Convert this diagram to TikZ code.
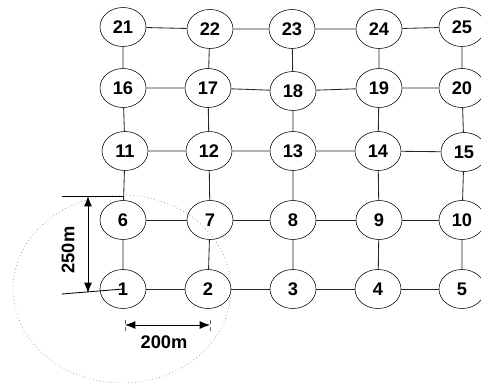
\documentclass[tikz,border=0pt]{standalone}
\usepackage{fontspec}
\setmainfont{Liberation Sans}
\usepackage{tikz}
\usetikzlibrary{shapes.geometric,arrows.meta}

\begin{document}
\begin{tikzpicture}[scale=0.25]
				\tikzstyle{every node}+=[inner sep=0pt]
				\tikzstyle{site}=[draw=black, ellipse, minimum width=1.15cm, minimum height=0.975cm, font=\fontsize{13}{15}\selectfont\bfseries]
				\tikzstyle{link}=[draw=black!85, line width=0.6pt]
				\tikzstyle{dimline}=[black, line width=0.6pt, {Latex[length=2.6mm,width=2mm]}-{Latex[length=2.6mm,width=2mm]}]
				\useasboundingbox (0,0) rectangle (48.1,-38.3);
				% coverage range round node 1
				\draw [black!45, dotted, line width=0.5pt] (12.2,-28.9) ellipse (10.9 and 9.4);
				% grid of nodes, row by row from the bottom
				\node [site] (n1) at (12.3,-28.9) {1};
				\node [site] (n2) at (20.8,-28.9) {2};
				\node [site] (n3) at (29.3,-28.9) {3};
				\node [site] (n4) at (37.8,-28.9) {4};
				\node [site] (n5) at (46.2,-28.9) {5};
				\node [site] (n6) at (12.3,-22.0) {6};
				\node [site] (n7) at (21.0,-22.0) {7};
				\node [site] (n8) at (29.3,-22.0) {8};
				\node [site] (n9) at (37.9,-22.0) {9};
				\node [site] (n10) at (46.2,-22.0) {10};
				\node [site] (n11) at (12.5,-15.1) {11};
				\node [site] (n12) at (20.9,-15.1) {12};
				\node [site] (n13) at (29.3,-15.1) {13};
				\node [site] (n14) at (37.8,-15.1) {14};
				\node [site] (n15) at (46.4,-15.2) {15};
				\node [site] (n16) at (12.3,-8.8) {16};
				\node [site] (n17) at (20.8,-8.8) {17};
				\node [site] (n18) at (29.3,-9.1) {18};
				\node [site] (n19) at (37.9,-8.8) {19};
				\node [site] (n20) at (46.2,-8.8) {20};
				\node [site] (n21) at (12.3,-2.7) {21};
				\node [site] (n22) at (21.0,-2.9) {22};
				\node [site] (n23) at (29.2,-2.9) {23};
				\node [site] (n24) at (37.9,-2.9) {24};
				\node [site] (n25) at (46.2,-2.7) {25};
				% horizontal links
				\draw [link] (n1) -- (n2) -- (n3) -- (n4) -- (n5);
				\draw [link] (n6) -- (n7) -- (n8) -- (n9) -- (n10);
				\draw [link] (n11) -- (n12) -- (n13) -- (n14) -- (n15);
				\draw [link] (n16) -- (n17) -- (n18) -- (n19) -- (n20);
				\draw [link] (n21) -- (n22) -- (n23) -- (n24) -- (n25);
				% vertical links
				\draw [link] (n1) -- (n6) -- (n11) -- (n16) -- (n21);
				\draw [link] (n2) -- (n7) -- (n12) -- (n17) -- (n22);
				\draw [link] (n3) -- (n8) -- (n13) -- (n18) -- (n23);
				\draw [link] (n4) -- (n9) -- (n14) -- (n19) -- (n24);
				\draw [link] (n5) -- (n10) -- (n15) -- (n20) -- (n25);
				% 250m spacing between rows
				\coordinate (topext) at (6.2,-19.6);
				\coordinate (topend) at (12.4,-19.6);
				\coordinate (botext) at (6.2,-29.4);
				\coordinate (arrtop) at (8.8,-19.6);
				\coordinate (arrbot) at (8.8,-29.3);
				\draw [black, line width=0.6pt] (topext) -- (topend);
				\draw [black, line width=0.6pt] (botext) -- (n1.center);
				\draw [dimline] (arrtop) -- (arrbot);
				\node [rotate=90, font=\fontsize{13}{15}\selectfont\bfseries] (lbl250) at (6.8,-25.0) {250m};
				% 200m spacing between columns
				\coordinate (tickl) at (12.5,-32.0);
				\coordinate (tickr) at (21.0,-32.0);
				\coordinate (arrl) at (12.5,-32.5);
				\coordinate (arrr) at (21.0,-32.5);
				\draw [black!60, densely dashed, line width=0.5pt] (tickl) -- ++(0,-1.1);
				\draw [black!60, densely dashed, line width=0.5pt] (tickr) -- ++(0,-1.1);
				\draw [dimline] (arrl) -- (arrr);
				\node [font=\fontsize{13}{15}\selectfont\bfseries] (lbl200) at (16.4,-34.2) {200m};
			\end{tikzpicture}
\end{document}
